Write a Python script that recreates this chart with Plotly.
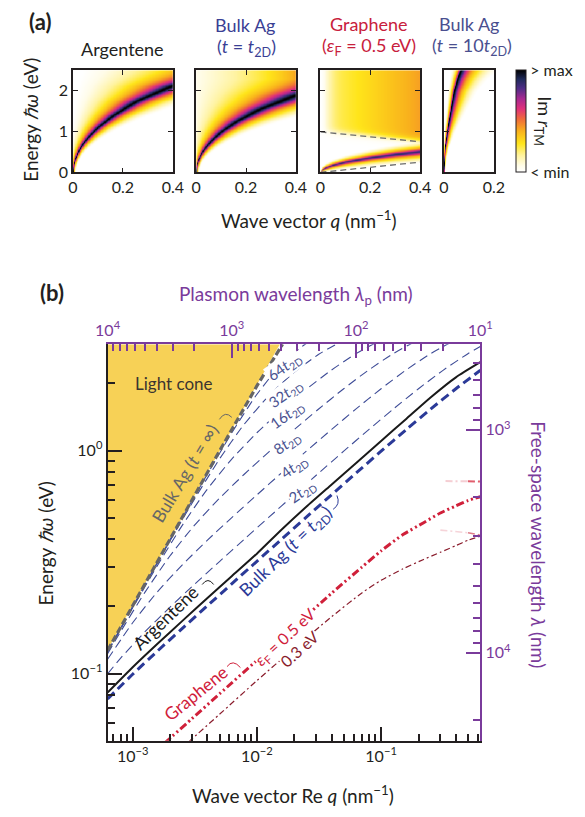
import numpy as np
import plotly.graph_objects as go

W, H = 585, 817
def px(x): return x / W
def py(y): return 1 - y / H

FONT = "Lato"
INK = "#231f20"
PURPLE = "#7a3b9b"
NAVY = "#3e4c97"
BLUE = "#2b3a98"
RED = "#d0203a"
DRED = "#8a1c2c"
GRAY = "#666666"

# ---------------- panel (b) data ----------------
lightcone_q = [6.283e-4, 0.0153, 6.283e-4]
lightcone_E = [0.128, 3.0, 3.0]

bulk_inf_q = [6.283e-4, 0.002, 0.005, 0.01, 0.0161]
bulk_inf_E = [0.127, 0.403, 0.995, 1.95, 3.0]

argentene_q = [6.283e-4, 0.001, 0.0016, 0.0025, 0.004, 0.0063, 0.01, 0.016, 0.025, 0.04, 0.063, 0.1, 0.16, 0.25, 0.4, 0.6283]
argentene_E = [0.0822, 0.1068, 0.1368, 0.1719, 0.2182, 0.2738, 0.345, 0.445, 0.56, 0.705, 0.88, 1.105, 1.39, 1.73, 2.13, 2.49]

t1_q = [6.283e-4, 0.001, 0.0016, 0.0025, 0.004, 0.0063, 0.01, 0.016, 0.025, 0.04, 0.063, 0.1, 0.16, 0.25, 0.4, 0.63]
t1_E = [0.0770, 0.0993, 0.1269, 0.1592, 0.2016, 0.2532, 0.3188, 0.4028, 0.5028, 0.6344, 0.7933, 0.9936, 1.2448, 1.5335, 1.8937, 2.290]

t2_q = [6.283e-4, 8e-4, 1.25e-3, 2e-3, 3.15e-3, 5e-3, 8e-3, 0.0125, 0.02, 0.0315, 0.05, 0.08, 0.125, 0.2, 0.315, 0.5, 0.6283]
t2_E = [0.0998, 0.1173, 0.1536, 0.1987, 0.2516, 0.3180, 0.4025, 0.5028, 0.6344, 0.7933, 0.9936, 1.2448, 1.5335, 1.8937, 2.290, 2.719, 2.928]

t4_q = [6.283e-4, 0.001, 0.001575, 0.0025, 0.004, 0.00625, 0.01, 0.01575, 0.025, 0.04, 0.0625, 0.1, 0.1575, 0.25, 0.4, 0.625]
t4_E = [0.1160, 0.1690, 0.2321, 0.3068, 0.3966, 0.4996, 0.6328, 0.7933, 0.9936, 1.2448, 1.5335, 1.8937, 2.290, 2.719, 3.134, 3.443]

t8_q = [6.283e-4, 7.875e-4, 0.00125, 0.002, 0.003125, 0.005, 0.007875, 0.0125, 0.02, 0.03125, 0.05, 0.07875, 0.125, 0.2, 0.3125]
t8_E = [0.1228, 0.1521, 0.2307, 0.3375, 0.4607, 0.6110, 0.7810, 0.9875, 1.2419, 1.5321, 1.8937, 2.290, 2.719, 3.134, 3.443]

t16_q = [6.283e-4, 0.001, 0.0015625, 0.0025, 0.0039375, 0.00625, 0.01, 0.015625, 0.025, 0.039375, 0.0625, 0.1]
t16_E = [0.1250, 0.1972, 0.3018, 0.4609, 0.6647, 0.9135, 1.2020, 1.5121, 1.8841, 2.2859, 2.7175, 3.134]

t32_q = [6.283e-4, 0.00125, 0.0019688, 0.003125, 0.005, 0.0078125, 0.0125, 0.0196875, 0.03125, 0.05]
t32_E = [0.1254, 0.2484, 0.3884, 0.6026, 0.9168, 1.3015, 1.7636, 2.2289, 2.6951, 3.1265]

t64_q = [6.283e-4, 9.844e-4, 0.0015625, 0.0025, 0.0039063, 0.00625, 0.0098438, 0.015625, 0.025, 0.0390625]
t64_E = [0.1252, 0.1968, 0.3119, 0.4978, 0.7681, 1.1966, 1.7654, 2.4278, 3.0234, 3.4114]

gr05_q = [0.0018, 0.003, 0.005, 0.01, 0.02, 0.04, 0.07, 0.1, 0.15, 0.22, 0.3, 0.4, 0.5, 0.6283]
gr05_E = [0.0487, 0.0628, 0.0811, 0.1147, 0.1622, 0.2294, 0.30, 0.355, 0.42, 0.475, 0.525, 0.565, 0.597, 0.621]

gr03_q = [0.0028, 0.005, 0.01, 0.02, 0.04, 0.07, 0.1, 0.15, 0.22, 0.3, 0.4, 0.5, 0.6283]
gr03_E = [0.0492, 0.0657, 0.093, 0.13, 0.18, 0.23, 0.262, 0.295, 0.325, 0.35, 0.375, 0.396, 0.413]

gr05_pale_q = [0.33, 0.5, 0.6283]
gr05_pale_E = [0.73, 0.728, 0.726]
gr03_pale_q = [0.30, 0.5, 0.6283]
gr03_pale_E = [0.44, 0.428, 0.418]

# tick labels
q_ticks = [1e-3, 1e-2, 1e-1]
q_ticktext = ["10<sup>−3</sup>", "10<sup>−2</sup>", "10<sup>−1</sup>"]
E_ticks = [0.1, 1]
E_ticktext = ["10<sup>−1</sup>", "10<sup>0</sup>"]
lp_ticks = [1e4, 1e3, 1e2, 1e1]
lp_ticktext = ["10<sup>4</sup>", "10<sup>3</sup>", "10<sup>2</sup>", "10<sup>1</sup>"]
lam_ticks = [1e3, 1e4]
lam_ticktext = ["10<sup>3</sup>", "10<sup>4</sup>"]

def minor_vals(e0, e1):
    return [k * 10.0 ** e for e in range(e0, e1 + 1) for k in range(2, 10)]

# ---------------- panel (a) data ----------------
pa_arg_q = [0.0] + argentene_q
pa_arg_E = [0.0] + argentene_E
pa_t1_q = [0.0] + t1_q
pa_t1_E = [0.0] + t1_E
pa_gr_q = [0, 0.01, 0.02, 0.05, 0.1, 0.2, 0.3, 0.4]
pa_gr_E = [0, 0.08, 0.113, 0.179, 0.253, 0.358, 0.44, 0.506]
pa_t10_q = [0, 0.002, 0.005, 0.0127, 0.025, 0.041, 0.055, 0.067, 0.09, 0.12]
pa_t10_E = [0, 0.38, 0.62, 1.0, 1.45, 2.0, 2.3, 2.5, 2.8, 3.0]
gr_upper_q = [0, 0.4]
gr_upper_E = [0.99, 0.75]
gr_lower_q = [0, 0.4]
gr_lower_E = [0, 0.25]

panel_titles = [("Argentene", None), ("Bulk Ag", "(<i>t</i> = <i>t</i><sub>2D</sub>)"),
                ("Graphene", "(<i>ε</i><sub>F</sub> = 0.5 eV)"), ("Bulk Ag", "(<i>t</i> = 10<i>t</i><sub>2D</sub>)")]

cs = [[0.0, '#ffffff'], [0.06, '#fffce8'], [0.16, '#fff3a0'], [0.28, '#ffe51a'], [0.4, '#f9b21c'],
      [0.52, '#ef6a3a'], [0.62, '#e0307a'], [0.72, '#a62890'], [0.82, '#4e2c86'], [0.91, '#1f2a5a'],
      [1.0, '#000000']]

Eg = np.linspace(0, 2.5, 170)

def band_q(qmax, dq, dE, wl, wr, floor, scale=2.2):
    qg = np.linspace(0, qmax, 170)
    Q, E = np.meshgrid(qg, Eg)
    qp = np.interp(E, dE, dq)
    w = np.where(Q < qp, wl, wr) * qp + floor
    L = 1 / (1 + ((Q - qp) / w) ** 2)
    return qg, np.clip(1 + np.log10(L) / scale, 0, 1)

def graphene_map():
    qg = np.linspace(0, 0.4, 170)
    Q, E = np.meshgrid(qg, Eg)
    Ep = np.interp(Q, pa_gr_q, pa_gr_E)
    wE = 0.045 * Ep + 0.006
    Lb = 1 / (1 + ((E - Ep) / wE) ** 2)
    zb = np.clip(1 + np.log10(Lb) / 2.0, 0, 1) * 0.88
    zb = zb / (1 + np.exp(-(E - 0.62 * Q) / 0.015))
    Eb = np.interp(Q, gr_upper_q, gr_upper_E)
    zc = (0.19 + 0.24 * Q / 0.4) / (1 + np.exp(-(E - Eb - 0.03) / 0.045)) * (1 - np.exp(-(Q / 0.035) ** 1.5))
    return qg, np.maximum(zb, zc)

maps = [band_q(0.4, pa_arg_q, pa_arg_E, 0.065, 0.055, 0.0008, 2.3),
        band_q(0.4, pa_t1_q, pa_t1_E, 0.08, 0.07, 0.0008, 2.3),
        graphene_map(),
        band_q(0.2, pa_t10_q, pa_t10_E, 0.035, 0.15, 0.0004, 2.3)]

xdoms = [(62.7, 167.3), (191.7, 296.0), (321.7, 426.0), (451.0, 503.3)]
qmaxes = [0.4, 0.4, 0.4, 0.2]
ydom = [py(174.3), py(71)]

fig = go.Figure()
layout = dict(width=W, height=H, margin=dict(l=0, r=0, t=0, b=0), paper_bgcolor='white',
              plot_bgcolor='white', showlegend=False, font=dict(family=FONT, color=INK, size=16))

for i in range(4):
    n = i + 1
    xs = '' if n == 1 else str(n)
    qg, z = maps[i]
    fig.add_trace(go.Heatmap(x=qg, y=Eg, z=np.round(z, 3), coloraxis='coloraxis', zsmooth='best',
                             xaxis='x' + xs, yaxis='y' + xs, hoverinfo='skip'))
    tv = [0, 0.2, 0.4] if qmaxes[i] > 0.3 else [0, 0.2]
    layout['xaxis' + xs] = dict(domain=[px(xdoms[i][0]), px(xdoms[i][1])], range=[0, qmaxes[i]],
                                anchor='y' + xs, tickvals=tv, ticktext=[('0' if v == 0 else f'{v:.1f}') for v in tv],
                                ticks='inside', ticklen=5, tickwidth=1.3, tickcolor=INK, mirror='ticks',
                                showline=True, linecolor=INK, linewidth=1.5, showgrid=False, zeroline=False,
                                tickfont=dict(size=16, color=INK))
    layout['yaxis' + xs] = dict(domain=ydom, range=[0, 2.5], anchor='x' + xs, tickvals=[0, 1, 2],
                                showticklabels=(n == 1), ticks='inside', ticklen=5, tickwidth=1.3,
                                tickcolor=INK, mirror='ticks', showline=True, linecolor=INK, linewidth=1.5,
                                showgrid=False, zeroline=False, tickfont=dict(size=16, color=INK))

for qq, EE in [(gr_upper_q, gr_upper_E), (gr_lower_q, gr_lower_E)]:
    fig.add_trace(go.Scatter(x=qq, y=EE, mode='lines', xaxis='x3', yaxis='y3',
                             line=dict(color='#6d6d6d', width=1.3, dash='6px,4px'), hoverinfo='skip'))

layout['coloraxis'] = dict(colorscale=cs, cmin=0, cmax=1,
                           colorbar=dict(x=px(526), xanchor='left', y=py(122.7), yanchor='middle',
                                         len=103.5 / H, lenmode='fraction', thickness=10, thicknessmode='pixels',
                                         outlinewidth=1, outlinecolor=INK, tickvals=[0, 1],
                                         ticktext=['< min', '> max'], ticks='', tickfont=dict(size=16, color=INK),
                                         xpad=0, ypad=0))

# ---------------- panel (b) ----------------
def line(q, E, color, width, dash=None, shape='spline'):
    fig.add_trace(go.Scatter(x=q, y=E, mode='lines', xaxis='x5', yaxis='y5', hoverinfo='skip',
                             line=dict(color=color, width=width, dash=dash, shape=shape, smoothing=0.6)))

fig.add_trace(go.Scatter(x=lightcone_q, y=lightcone_E, mode='lines', fill='toself', fillcolor='#f7d156',
                         line=dict(width=0, color='#f7d156'), xaxis='x5', yaxis='y5', hoverinfo='skip'))
for q, E in [(t64_q, t64_E), (t32_q, t32_E), (t16_q, t16_E), (t8_q, t8_E), (t4_q, t4_E), (t2_q, t2_E)]:
    line(q, E, NAVY, 1.1, '9px,5px')
line(bulk_inf_q, bulk_inf_E, GRAY, 3.2, '7px,3px', 'linear')
line(t1_q, t1_E, BLUE, 3, '9px,5px')
line(argentene_q, argentene_E, '#1a1a1a', 2)
line(gr05_pale_q[:2], gr05_pale_E[:2], 'rgba(215,60,80,0.25)', 2, '7px,3px,2px,3px', 'linear')
line(gr05_pale_q[1:], gr05_pale_E[1:], 'rgba(215,40,60,0.75)', 2, '7px,3px,2px,3px', 'linear')
line(gr03_pale_q[:2], gr03_pale_E[:2], 'rgba(215,60,80,0.22)', 1.6, '7px,3px,2px,3px', 'linear')
line(gr03_pale_q[1:], gr03_pale_E[1:], 'rgba(200,40,60,0.6)', 1.6, '7px,3px,2px,3px', 'linear')
line(gr05_q, gr05_E, RED, 3, '8px,3px,2px,3px,2px,3px')
line(gr03_q, gr03_E, DRED, 1.2, '6px,3px,2px,3px')

# dummy for overlay axes
fig.add_trace(go.Scatter(x=[1000], y=[1000], mode='markers', marker=dict(opacity=0), xaxis='x6', yaxis='y6',
                         hoverinfo='skip'))

bx = [px(99), px(489)]
by = [py(749), py(348)]
common = dict(type='log', showgrid=False, zeroline=False, ticks='inside', ticklen=14, tickwidth=1.6,
              tickmode='array', showline=True, linewidth=2)

def minor(color, vals):
    return dict(ticks='inside', ticklen=7, tickwidth=1.6, tickcolor=color, tickmode='array',
                tickvals=vals, showgrid=False)

layout['xaxis5'] = dict(common, domain=bx, anchor='y5', range=[np.log10(2 * np.pi / 1e4), np.log10(2 * np.pi / 10)],
                        tickvals=q_ticks, ticktext=q_ticktext,
                        linecolor=INK, tickcolor=INK, tickfont=dict(size=16, color=INK),
                        minor=minor(INK, minor_vals(-4, -1)))
layout['yaxis5'] = dict(common, domain=by, anchor='x5', range=[np.log10(0.05), np.log10(3.0)],
                        tickvals=E_ticks, ticktext=E_ticktext,
                        linecolor=INK, tickcolor=INK, tickfont=dict(size=16, color=INK),
                        minor=minor(INK, minor_vals(-2, 0)))
layout['xaxis6'] = dict(common, overlaying='x5', side='top', anchor='y5', range=[4, 1],
                        tickvals=lp_ticks, ticktext=lp_ticktext,
                        linecolor=PURPLE, tickcolor=PURPLE, tickfont=dict(size=16, color=PURPLE),
                        minor=minor(PURPLE, minor_vals(1, 3)))
layout['yaxis6'] = dict(common, overlaying='y5', side='right', anchor='x5',
                        range=[np.log10(1239.84 / 0.05), np.log10(1239.84 / 3.0)],
                        tickvals=lam_ticks, ticktext=lam_ticktext,
                        linecolor=PURPLE, tickcolor=PURPLE, tickfont=dict(size=16, color=PURPLE),
                        minor=minor(PURPLE, minor_vals(2, 4)))

# ---------------- annotations ----------------
anns = []
def ann(text, x, y, size=17, color=INK, angle=0, bg=None, xanchor='center'):
    d = dict(text=text, x=px(x), y=py(y), xref='paper', yref='paper', showarrow=False, textangle=angle,
             xanchor=xanchor, yanchor='middle', font=dict(family=FONT, size=size, color=color))
    if bg:
        d.update(bgcolor=bg, borderpad=0)
    anns.append(d)

ann("<b>(a)</b>", 28, 22, 22)
ann("<b>(b)</b>", 41, 296, 22)
ann("Argentene", 115, 50, 18)
ann("Bulk Ag", 243, 25, 18, '#3a3f95')
ann(panel_titles[1][1], 244, 48, 18, '#3a3f95')
ann("Graphene", 373, 24, 18, '#c8203c')
ann(panel_titles[2][1], 373, 47, 18, '#c8203c')
ann("Bulk Ag", 477, 24, 18, '#4a4f8f')
ann(panel_titles[3][1], 480, 47, 18, '#4a4f8f')
ann("Energy <i>ℏω</i> (eV)", 19, 121, 19, angle=-90)
ann("Wave vector <i>q</i> (nm<sup>−1</sup>)", 310, 222, 19)
ann("Im <i>r</i><sub>TM</sub>", 555, 123, 18, angle=90)

ann("Plasmon wavelength <i>λ</i><sub>p</sub> (nm)", 296, 298, 19, PURPLE)
ann("Energy <i>ℏω</i> (eV)", 35, 549, 19, angle=-90)
ann("Wave vector Re <i>q</i> (nm<sup>−1</sup>)", 293, 803, 19)
ann("Free-space wavelength <i>λ</i> (nm)", 549, 551, 19, PURPLE, angle=90)

ann("Light cone", 169, 388, 17, '#3b3530')
ann("Bulk Ag (<i>t</i> = ∞)", 180, 479, 17.5, GRAY, angle=-59)
for txt, x, y in [("64", 284, 371), ("32", 285, 398), ("16", 287, 420), ("8", 287, 448), ("4", 294, 472), ("2", 302, 497)]:
    ann(txt + "<i>t</i><sub>2D</sub>", x, y, 15, '#4a5290', angle=-36, bg='white')
ann("Argentene", 160, 624, 18, '#1a1a1a', angle=-44)
ann("Bulk Ag (<i>t</i> = <i>t</i><sub>2D</sub>)", 286, 558, 17.5, BLUE, angle=-44)
ann("Graphene", 191, 701, 17.5, RED, angle=-39)
ann("<i>ε</i><sub>F</sub> = 0.5 eV", 285, 645, 16, RED, angle=-43, bg='white')
ann("0.3 eV", 300, 656, 16, DRED, angle=-42, bg='white')

layout['annotations'] = anns

# small leader arcs
def arc(x0, y0, cx, cy, x1, y1, color):
    return dict(type='path', xref='paper', yref='paper',
                path=f"M {px(x0)},{py(y0)} Q {px(cx)},{py(cy)} {px(x1)},{py(y1)}",
                line=dict(color=color, width=1))
layout['shapes'] = [arc(198, 591, 204, 583, 210, 591, '#1a1a1a'),
                    arc(224, 674, 230, 666, 238, 675, RED),
                    arc(216, 424, 222, 415, 229, 422, GRAY),
                    arc(335, 515, 343, 510, 339, 501, BLUE)]

fig.update_layout(**layout)
fig.write_html("out.html")
